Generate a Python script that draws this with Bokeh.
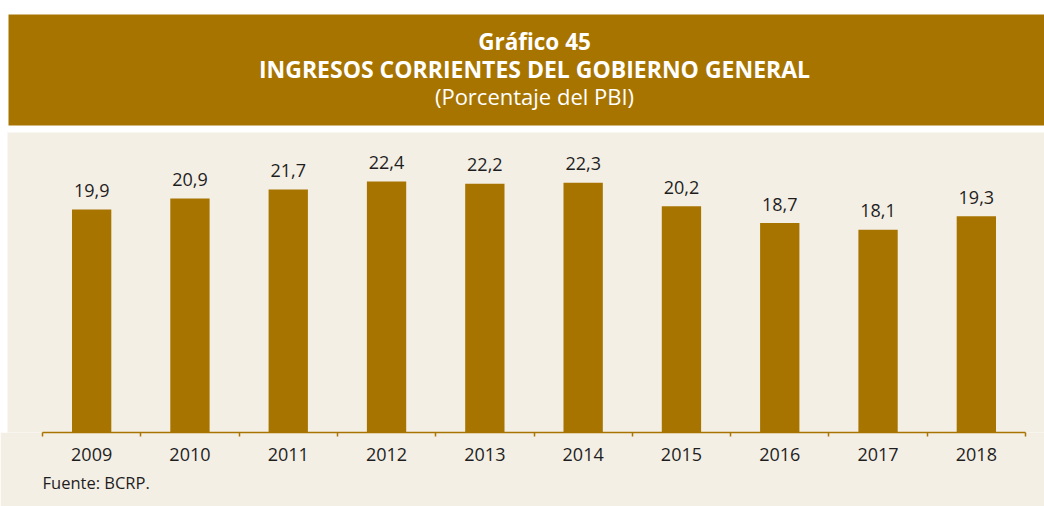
from bokeh.plotting import figure
from bokeh.models import Range1d, FixedTicker, Label, ColumnDataSource, Title
from bokeh.core.properties import value
from bokeh.embed import file_html
from bokeh.resources import INLINE

years = ["2009", "2010", "2011", "2012", "2013", "2014", "2015", "2016", "2017", "2018"]
values = [19.9, 20.9, 21.7, 22.4, 22.2, 22.3, 20.2, 18.7, 18.1, 19.3]
value_labels = ["19,9", "20,9", "21,7", "22,4", "22,2", "22,3", "20,2", "18,7", "18,1", "19,3"]
title_lines = ["Gráfico 45", "INGRESOS CORRIENTES DEL GOBIERNO GENERAL", "(Porcentaje del PBI)"]
source_note = "Fuente: BCRP."

BROWN = "#A87400"
BEIGE = "#F4EFE5"
TXT = "#1e1e1e"
FONT = "Open Sans"
W, H = 1044, 506

# layout geometry (pixels)
AX_L, AX_R, AX_Y = 42, 1025, 432
n = len(years)
ppx = (AX_R - AX_L) / n
ppy = 11.2


def dx(px):
    return (px - AX_L) / ppx


def dy(py):
    return (AX_Y - py) / ppy


xs = [i + 0.5 for i in range(n)]
src = ColumnDataSource(dict(x=xs, top=values, lab=value_labels))

p = figure(width=W, height=H, output_backend="svg", toolbar_location=None,
           x_range=Range1d(dx(0), dx(W)), y_range=Range1d(0, dy(0)),
           min_border_top=0, min_border_bottom=H - AX_Y, min_border_left=0, min_border_right=0)
p.background_fill_color = "white"
p.border_fill_color = BEIGE
p.outline_line_color = None
p.grid.visible = False
p.yaxis.visible = False

# panel backgrounds
p.quad(left=[dx(8)], right=[dx(W + 10)], top=[dy(14)], bottom=[dy(125)], fill_color=BROWN, line_color=None)
p.quad(left=[dx(7)], right=[dx(W + 10)], top=[dy(132)], bottom=[dy(445)], fill_color=BEIGE, line_color=None)

for txt, yy, style, size in [(title_lines[0], 41, "bold", "22.5px"),
                             (title_lines[1], 68, "bold", "23px"),
                             (title_lines[2], 95, "normal", "22px")]:
    p.add_layout(Label(x=dx(534), y=dy(yy), text=txt, text_align="center",
                       text_baseline="alphabetic", text_font=FONT, text_font_style=style,
                       text_font_size=size, text_color="white"))

p.vbar(x="x", top="top", width=0.4, source=src, fill_color=BROWN, line_color=None)
p.text(x="x", y="top", text="lab", source=src, y_offset=-19, text_align="center",
       text_baseline="alphabetic", text_font=value(FONT), text_font_size="18px", text_color=TXT)

ax = p.xaxis[0]
ax.bounds = (0, n)
ax.ticker = FixedTicker(ticks=xs, minor_ticks=list(range(n + 1)))
ax.major_label_overrides = {x: y for x, y in zip(xs, years)}
ax.major_tick_line_color = None
ax.minor_tick_line_color = BROWN
ax.minor_tick_line_width = 1.5
ax.minor_tick_in = 0
ax.minor_tick_out = 4
ax.axis_line_color = BROWN
ax.axis_line_width = 1.5
ax.major_label_standoff = 9
ax.major_label_text_font = FONT
ax.major_label_text_font_size = "18px"
ax.major_label_text_color = TXT

p.add_layout(Title(text=source_note, align="left", offset=AX_L, standoff=10,
                   text_font=FONT, text_font_size="16.5px", text_font_style="normal",
                   text_color=TXT), "below")

open("out.html", "w").write(file_html(p, INLINE))
